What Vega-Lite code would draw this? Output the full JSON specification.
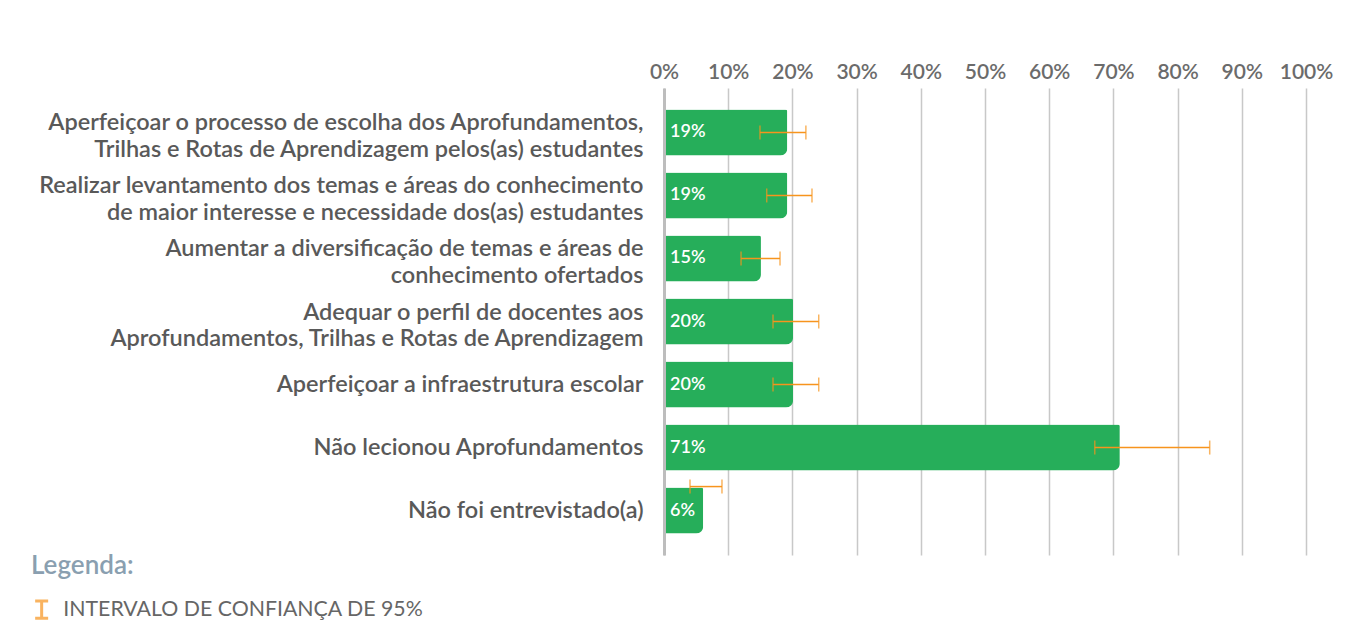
{
  "$schema": "https://vega.github.io/schema/vega-lite/v6.json",
  "autosize": "none",
  "width": 642,
  "height": 467,
  "padding": {"left": 664, "top": 88, "right": 54, "bottom": 70},
  "background": "white",
  "config": {"font": "Lato", "view": {"stroke": null}},
  "data": {
    "values": [
      {"cat": "Aperfeiçoar o processo de escolha dos Aprofundamentos,\nTrilhas e Rotas de Aprendizagem pelos(as) estudantes", "v": 19.2, "lo": 14.95, "hi": 22.1, "label": "19%"},
      {"cat": "Realizar levantamento dos temas e áreas do conhecimento\nde maior interesse e necessidade dos(as) estudantes", "v": 19.2, "lo": 16.0, "hi": 23.05, "label": "19%"},
      {"cat": "Aumentar a diversificação de temas e áreas de\nconhecimento ofertados", "v": 15.1, "lo": 12.0, "hi": 18.07, "label": "15%"},
      {"cat": "Adequar o perfil de docentes aos\nAprofundamentos, Trilhas e Rotas de Aprendizagem", "v": 20.1, "lo": 16.98, "hi": 24.1, "label": "20%"},
      {"cat": "Aperfeiçoar a infraestrutura escolar", "v": 20.1, "lo": 16.98, "hi": 24.1, "label": "20%"},
      {"cat": "Não lecionou Aprofundamentos", "v": 71.0, "lo": 67.1, "hi": 85.0, "label": "71%"},
      {"cat": "Não foi entrevistado(a)", "v": 6.1, "lo": 4.05, "hi": 9.03, "label": "6%"}
    ]
  },
  "encoding": {
    "y": {
      "field": "cat", "type": "nominal", "sort": null, "title": null,
      "scale": {"paddingInner": 0.27, "paddingOuter": 0.34},
      "axis": {
        "labelExpr": "split(datum.label, '\\n')",
        "labelFontSize": 23.5, "labelFontWeight": 600, "labelColor": "#595959",
        "labelLineHeight": 26.5, "labelPadding": 21, "labelLimit": 800,
        "labelOffset": {"condition": {"test": "indexof(datum.value, '\\n') >= 0", "value": -9}, "value": 0},
        "ticks": false, "domainColor": "#bdbdbd", "domainWidth": 3, "zindex": 2
      }
    }
  },
  "layer": [
    {
      "mark": {"type": "bar", "color": "#26AE5A", "cornerRadiusBottomRight": 7, "cornerRadiusTopRight": 2},
      "encoding": {
        "x": {
          "field": "v", "type": "quantitative", "title": null,
          "scale": {"domain": [0, 100], "nice": false},
          "axis": {
            "orient": "top", "values": [0, 10, 20, 30, 40, 50, 60, 70, 80, 90, 100],
            "labelExpr": "datum.value + '%'", "labelOverlap": false, "labelFlush": false,
            "labelFontSize": 21, "labelFontWeight": 600, "labelColor": "#6b6b6b",
            "labelPadding": 6, "labelDx": -10, "ticks": false, "domain": false,
            "grid": true, "gridColor": "#c8c8c8", "gridWidth": 1.5
          }
        }
      }
    },
    {
      "mark": {"type": "text", "align": "left", "baseline": "middle", "dx": 6, "color": "white", "fontSize": 18, "fontWeight": 600},
      "encoding": {
        "x": {"datum": 0, "type": "quantitative"},
        "text": {"field": "label"}
      }
    },
    {
      "mark": {"type": "rule", "strokeWidth": 1.5, "yOffset": {"expr": "datum.hi < 10 ? -24 : 0"}},
      "encoding": {
        "x": {"field": "lo", "type": "quantitative"},
        "x2": {"field": "hi"},
        "color": {
          "datum": "INTERVALO DE CONFIANÇA DE 95%",
          "title": "Legenda:",
          "scale": {"range": ["#F7941D"]},
          "legend": {
            "orient": "none", "legendX": -633, "legendY": 465,
            "titleFontSize": 26, "titleFontWeight": 600, "titleColor": "#8a9fb0",
            "titlePadding": 20, "titleLimit": 0,
            "labelFontSize": 21.3, "labelColor": "#666666", "labelFontWeight": "normal",
            "labelOffset": 11, "labelLimit": 0,
            "symbolType": "M-0.75,-1H0.75M0,-1V1M-0.75,1H0.75",
            "symbolSize": 300, "symbolStrokeWidth": 3, "symbolFillColor": "transparent"
          }
        }
      }
    },
    {
      "mark": {"type": "tick", "orient": "vertical", "thickness": 1.5, "size": 14, "yOffset": {"expr": "datum.hi < 10 ? -24 : 0"}},
      "encoding": {
        "x": {"field": "lo", "type": "quantitative"},
        "color": {"datum": "INTERVALO DE CONFIANÇA DE 95%"}
      }
    },
    {
      "mark": {"type": "tick", "orient": "vertical", "thickness": 1.5, "size": 14, "yOffset": {"expr": "datum.hi < 10 ? -24 : 0"}},
      "encoding": {
        "x": {"field": "hi", "type": "quantitative"},
        "color": {"datum": "INTERVALO DE CONFIANÇA DE 95%"}
      }
    }
  ]
}
